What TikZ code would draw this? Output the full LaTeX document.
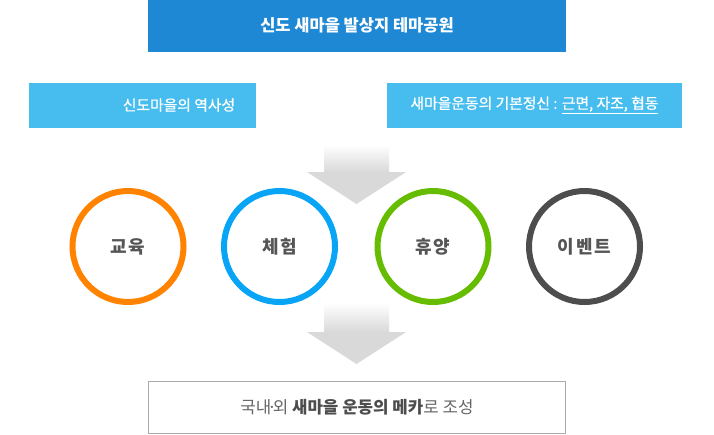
\documentclass[tikz,border=0pt]{standalone}
\usepackage{fontspec}
\setmainfont{Noto Sans CJK KR}
\usetikzlibrary{calc}
\definecolor{topblue}{HTML}{1E88D4}
\definecolor{lightblue}{HTML}{46BDEE}
\definecolor{corange}{HTML}{FF8200}
\definecolor{cblue}{HTML}{08A4F6}
\definecolor{cgreen}{HTML}{66BC00}
\definecolor{cdark}{HTML}{4D4D4D}
\definecolor{ctext}{HTML}{555555}
\definecolor{btext}{HTML}{666666}
\definecolor{arrowgray}{HTML}{D9D9D9}
\definecolor{boxborder}{HTML}{AAAAAA}
\tikzset{
  x=1pt, y=-1pt,
  titletext/.style={text=white, font=\fontsize{16.5}{18}\selectfont\bfseries},
  subtext/.style={text=white, font=\fontsize{14.8}{16}\selectfont\addfontfeatures{FakeBold=0.8}},
  ring/.style={circle, draw=#1, line width=6pt, minimum size=111pt, inner sep=0pt, text=ctext,
    font=\fontsize{18}{20}\selectfont\bfseries\addfontfeatures{LetterSpace=10}},
}
\newcommand{\grayarrow}[3]{% x-center, stem top, head top
  \shade[top color=white, bottom color=arrowgray] (#1-32.5,#2) rectangle (#1+32.5,#3);
  \fill[arrowgray] (#1-49.5,#3) -- (#1+49.5,#3) -- (#1,#3+32) -- cycle;
}
\begin{document}
\begin{tikzpicture}
\useasboundingbox (0,0) rectangle (714,434);
% title
\fill[topblue] (148,0) rectangle (566,52);
\node[titletext] (title) at (357,25) {신도 새마을 발상지 테마공원};
% sub boxes
\fill[lightblue] (29,83) rectangle (256,128);
\node[subtext] (hist) at (179,105) {신도마을의 역사성};
\fill[lightblue] (387,83) rectangle (682,128);
\node[subtext] (spirit) at (534.5,105) {새마을운동의 기본정신 : \underline{근면, 자조, 협동}};
% arrow 1
\grayarrow{356.5}{145}{172}
% rings
\node[ring=corange] (edu) at (128,246.5) {교육};
\node[ring=cblue] (exp) at (279.5,246.5) {체험};
\node[ring=cgreen] (rest) at (433,246.5) {휴양};
\node[ring=cdark] (event) at (584.5,246.5) {이벤트};
% arrow 2
\grayarrow{356.5}{303}{332}
% bottom box
\draw[boxborder, line width=1pt, fill=white] (148.5,381.5) rectangle (565.5,433);
\node[font=\fontsize{16.8}{18}\selectfont, text=btext] (mecca) at (357,407) {국내\kern-4pt·\kern-4pt외 {\bfseries\color{cdark}새마을 운동의 메카}로 조성};
\end{tikzpicture}
\end{document}
